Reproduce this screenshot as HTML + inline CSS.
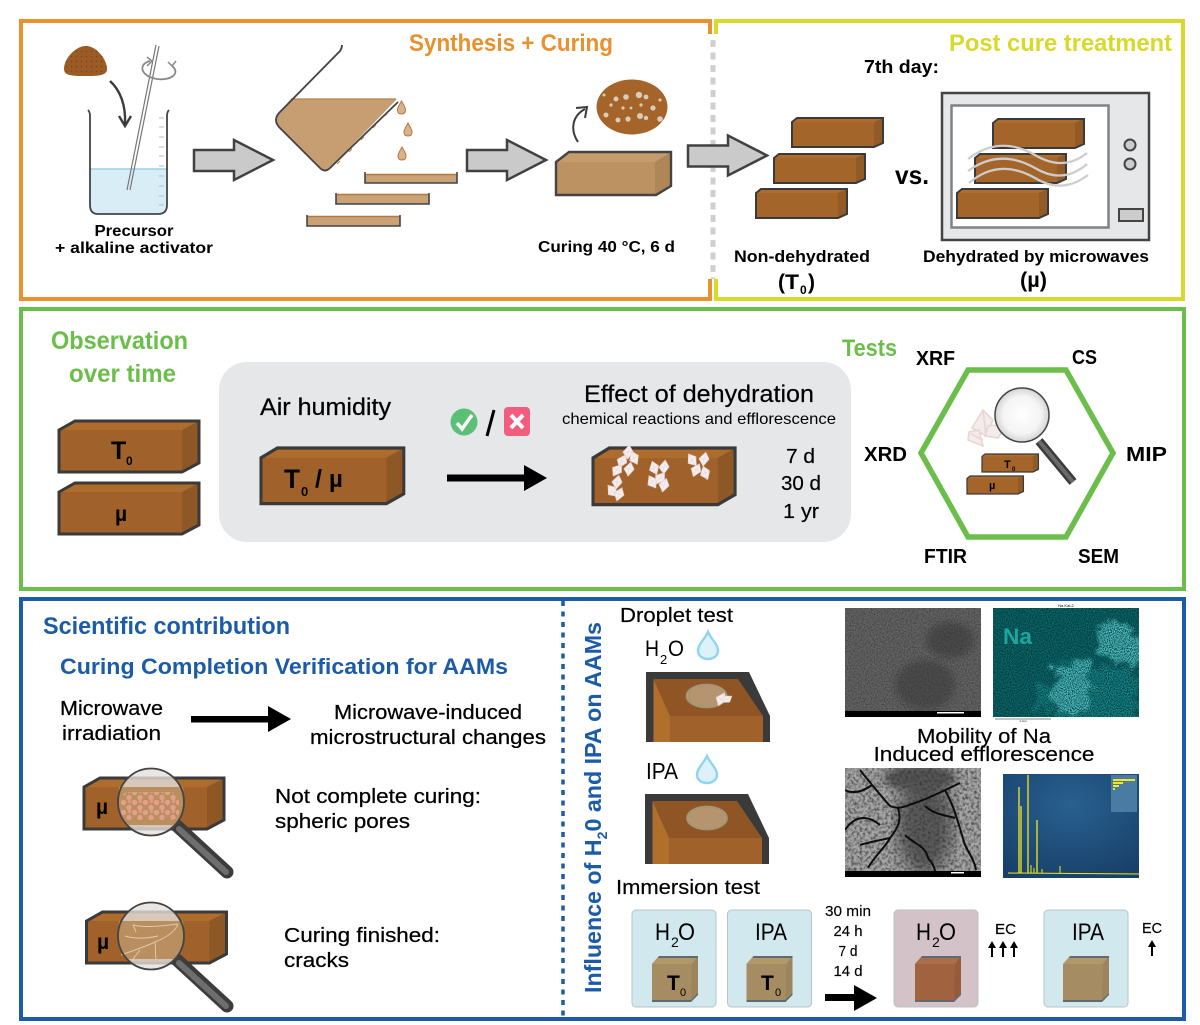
<!DOCTYPE html>
<html><head><meta charset="utf-8"><title>Diagram</title>
<style>
html,body{margin:0;padding:0;background:#fff}
svg{display:block}
text{font-family:"Liberation Sans",sans-serif;fill:#000}
.b{font-weight:bold}
.o{fill:#E8912D;font-weight:bold}
.y{fill:#D9D82B;font-weight:bold}
.g{fill:#6CBE4B;font-weight:bold}
.bl{fill:#1B5BA8;font-weight:bold}
</style></head><body>
<svg width="1200" height="1025" viewBox="0 0 1200 1025" xmlns="http://www.w3.org/2000/svg">
<defs>
<g id="flat"><path d="M0 4L5 0H91V25L82 29H0Z" fill="#A4652B"/><path d="M0 4L5 0H91L82 4Z" fill="#AE6C2D"/><path d="M82 4L91 0V25L82 29Z" fill="#915A27"/><path d="M0 4L5 0H91V25L82 29H0Z" fill="none" stroke="#3A3A3A" stroke-width="2"/></g>
<g id="big"><path d="M0 9L16 0H140V42L123 51H0Z" fill="#A0622A"/><path d="M0 9L16 0H140L123 9Z" fill="#AE6C2D"/><path d="M123 9L140 0V42L123 51Z" fill="#8E5826"/><path d="M0 9L16 0H140V42L123 51H0Z" fill="none" stroke="#3A3A3A" stroke-width="3"/></g>
<g id="cr"><path d="M0 -7L5 -1L1 7L-5 1Z" fill="#F7EFEF" stroke="#E3D3D3" stroke-width=".7"/><path d="M0 -7L0 7M-5 1L5 -1" stroke="#E3D3D3" stroke-width=".5"/></g>
<g id="drop"><path d="M0 -14C3 -7 10 -2 10 5C10 10 5 13 0 13C-5 13 -10 10 -10 5C-10 -2 -3 -7 0 -14Z" fill="#DDF1FA" stroke="#8FD5F0" stroke-width="2.4"/></g>
<g id="dr"><path d="M0 -7C2 -3 4 -1 4 2C4 5 2 6 0 6C-2 6 -4 5 -4 2C-4 -1 -2 -3 0 -7Z" fill="#D5B48D" stroke="#B9793B" stroke-width="1"/></g>
<path id="garrow" d="M0 10H40V0L79 20L40 40V31H0Z" fill="#CACACA" stroke="#414141" stroke-width="2.5"/>
<g id="cube"><path d="M0 8L7 0H46V38L39 46H0Z" fill="#A68C63"/><path d="M0 8L7 0H46L40 8Z" fill="#B09868"/><path d="M40 8L46 0V38L39 46Z" fill="#9C845D"/><path d="M0 44H39L46 37V39L39 46H0ZM7 0H46V2H6Z" fill="#5F6B70"/></g>
<g id="cube2"><path d="M0 8L7 0H46V38L39 46H0Z" fill="#A0623F"/><path d="M0 8L7 0H46L40 8Z" fill="#AB6E4C"/><path d="M40 8L46 0V38L39 46Z" fill="#955B3B"/><path d="M0 44H39L46 37V39L39 46H0ZM7 0H46V2H6Z" fill="#5F6B70"/></g>
<radialGradient id="lens"><stop offset="0" stop-color="#fff"/><stop offset=".7" stop-color="#f4f4f4"/><stop offset="1" stop-color="#d4d4d4"/></radialGradient>
<radialGradient id="spec" cx=".5" cy=".3" r=".8"><stop offset="0" stop-color="#29608F"/><stop offset="1" stop-color="#173F68"/></radialGradient>
<pattern id="pores" width="11" height="10" patternUnits="userSpaceOnUse"><circle cx="2.5" cy="2.5" r="2.7" fill="#E49F8A"/><circle cx="8" cy="7.5" r="2.7" fill="#E49F8A"/><circle cx="8.5" cy="1.5" r="1.8" fill="#DE9A84"/></pattern>
<pattern id="dots" width="5" height="5" patternUnits="userSpaceOnUse"><circle cx="1.5" cy="1.5" r=".7" fill="#7A451B"/></pattern>
<filter id="n1" x="0" y="0" width="100%" height="100%" color-interpolation-filters="sRGB"><feTurbulence type="fractalNoise" baseFrequency=".7" numOctaves="2" seed="3"/><feColorMatrix values="0 0 0 0 .2  0 0 0 0 .2  0 0 0 0 .2  0 0 0 1.6 -.55"/></filter>
<filter id="n2" x="0" y="0" width="100%" height="100%" color-interpolation-filters="sRGB"><feTurbulence type="fractalNoise" baseFrequency=".95" numOctaves="2" seed="8"/><feColorMatrix values="0 0 0 0 0  0 0 0 0 .18  0 0 0 0 .2  0 0 0 2.6 -.95"/></filter>
<filter id="n3" x="0" y="0" width="100%" height="100%" color-interpolation-filters="sRGB"><feTurbulence type="fractalNoise" baseFrequency=".35" numOctaves="3" seed="5"/><feColorMatrix values="0 0 0 0 .2  0 0 0 0 .2  0 0 0 0 .2  0 0 0 1.8 -.7"/></filter>
<filter id="bl4"><feGaussianBlur stdDeviation="4"/></filter>
<filter id="bl8"><feGaussianBlur stdDeviation="8"/></filter>
<filter id="pat" x="-20%" y="-20%" width="140%" height="140%" color-interpolation-filters="sRGB"><feTurbulence type="fractalNoise" baseFrequency=".07" numOctaves="3" seed="4" result="t"/><feDisplacementMap in="SourceGraphic" in2="t" scale="28" xChannelSelector="R" yChannelSelector="G"/><feGaussianBlur stdDeviation="1.2"/></filter>
<clipPath id="cS1"><rect x="845" y="608" width="136" height="109"/></clipPath>
<clipPath id="cNa"><rect x="993" y="608" width="146" height="109"/></clipPath>
<clipPath id="cS2"><rect x="845" y="768" width="136" height="109"/></clipPath>
</defs>
<rect width="1200" height="1025" fill="#fff"/>

<!-- Frames -->
<path d="M710 34V21H21V299H710V279" fill="none" stroke="#E8912D" stroke-width="4"/>
<path d="M716 34V21H1183V299H716V279" fill="none" stroke="#D9D82B" stroke-width="4"/>
<path d="M713 40V279" stroke="#CFCFCF" stroke-width="5" stroke-dasharray="7 5.5" fill="none"/>
<rect x="21" y="309" width="1163" height="280" fill="none" stroke="#6CBE4B" stroke-width="4"/>
<rect x="21" y="599" width="1163" height="420" fill="none" stroke="#1B5BA8" stroke-width="4"/>
<path d="M563 601V1017" stroke="#1B5BA8" stroke-width="3.5" stroke-dasharray="5 5.5" fill="none"/>

<!-- Top-left -->
<text x="409" y="51" class="o" font-size="24" textLength="204" lengthAdjust="spacingAndGlyphs">Synthesis + Curing</text>
<path d="M64 69C64 58 76 46 86 46C97 46 107 60 107 69C107 76 97 76 86 76C73 76 64 76 64 69Z" fill="#9A5B24"/>
<path d="M64 69C64 58 76 46 86 46C97 46 107 60 107 69C107 76 97 76 86 76C73 76 64 76 64 69Z" fill="url(#dots)"/>
<path d="M110 81C120 90 126 105 125 124" fill="none" stroke="#3b3b3b" stroke-width="2.4"/>
<path d="M119 116L125 126L131 116" fill="none" stroke="#3b3b3b" stroke-width="2.4"/>
<path d="M90 169H167V205Q167 214 158 214H98Q90 214 90 205Z" fill="#D9EDF7"/>
<path d="M90 169H167" stroke="#9CD0E8" stroke-width="1.5"/>
<path d="M88 110Q90 112 90 116V205Q90 214 98 214H158Q167 214 167 205V116Q167 112 169 110" fill="none" stroke="#444" stroke-width="1.8"/>
<path d="M159 118h5M159 127h5M159 137h5M159 147h5M159 156h5M159 166h5M159 176h5M159 186h5M159 196h5M159 205h5" stroke="#bbb" stroke-width="1"/>
<path d="M156 45L127 190M159 46L130 190" stroke="#777" stroke-width="1.2"/>
<path d="M150 61C138 64 140 76 157 79C171 81 181 73 172 66" fill="none" stroke="#888" stroke-width="1.8"/>
<path d="M147 57L152 61L147 66M168 62L172 66L176 61" fill="none" stroke="#888" stroke-width="1.5"/>
<text x="134" y="236" text-anchor="middle" class="b" font-size="15.5" textLength="79" lengthAdjust="spacingAndGlyphs">Precursor</text>
<text x="55" y="253" class="b" font-size="15.5" textLength="158" lengthAdjust="spacingAndGlyphs">+ alkaline activator</text>
<use href="#garrow" transform="translate(194,140)"/>

<path d="M291 99H397L330 168Q325 173 320 168L279 127Q273 120 279 113Z" fill="#C69E72"/>
<path d="M291 99H396" stroke="#B5834C" stroke-width="1.2"/>
<path d="M342 45Q342 48 340 51L279 113Q273 120 279 127L320 168Q325 173 330 168L398 102" fill="none" stroke="#444" stroke-width="1.8"/>
<path d="M388 113l-3 3M376 125l-3 3M364 137l-3 3M352 149l-3 3M340 161l-3 3" stroke="#A98A66" stroke-width="1"/>
<use href="#dr" transform="translate(401.5,108)"/><use href="#dr" transform="translate(408,130)"/><use href="#dr" transform="translate(402,154)"/>
<g fill="#C9A377"><rect x="365" y="174" width="92" height="9"/><rect x="336" y="194" width="93" height="10"/><rect x="307" y="216" width="93" height="10"/></g>
<path d="M366 174.500H456M337 194.500H428M308 216.500H399" stroke="#B5763A" stroke-width="1.500"/>
<g fill="none" stroke="#444" stroke-width="1.600">
<path d="M365 172V183H457V172"/><path d="M336 193V204H429V193"/><path d="M307 215V226H400V215"/>
</g>
<use href="#garrow" transform="translate(467,140)"/>
<path d="M556 162L569 152H671V186L656 195H556Z" fill="#BC9263"/>
<path d="M556 162L569 152H671L655 162Z" fill="#C69C6D"/>
<path d="M655 162L671 152V186L655 195Z" fill="#AF8658"/>
<path d="M556 162L569 152H671V186L656 195H556Z" fill="none" stroke="#444" stroke-width="2.4"/>
<path d="M578 142C570 130 572 116 585 109" fill="none" stroke="#3b3b3b" stroke-width="2"/>
<path d="M576 108L587 107L585 118" fill="none" stroke="#3b3b3b" stroke-width="2"/>
<ellipse cx="632" cy="107" rx="35.5" ry="27.5" fill="#A5642A"/>
<g fill="#D9CDB8"><circle cx="604" cy="95" r="1.5"/><circle cx="616" cy="99" r="2.5"/><circle cx="626" cy="97" r="2.8"/><circle cx="639" cy="95" r="3.2"/><circle cx="646" cy="97" r="2.4"/><circle cx="660" cy="100" r="1.6"/><circle cx="611" cy="105" r="1.6"/><circle cx="623" cy="108" r="1.6"/><circle cx="631" cy="108" r="1.4"/><circle cx="641" cy="105" r="1.6"/><circle cx="653" cy="108" r="2.6"/><circle cx="606" cy="115" r="2.5"/><circle cx="618" cy="120" r="2.5"/><circle cx="628" cy="119" r="2.6"/><circle cx="640" cy="116" r="3"/><circle cx="646" cy="118" r="2.2"/><circle cx="660" cy="119" r="2.8"/></g>
<text x="538" y="252" class="b" font-size="16" textLength="137" lengthAdjust="spacingAndGlyphs">Curing 40 °C, 6 d</text>

<!-- Top-right -->
<use href="#garrow" transform="translate(688,135.5)"/>
<text x="949" y="51" class="y" font-size="24" textLength="223" lengthAdjust="spacingAndGlyphs">Post cure treatment</text>
<text x="864" y="73" class="b" font-size="18" textLength="75" lengthAdjust="spacingAndGlyphs">7th day:</text>
<use href="#flat" transform="translate(792,118)"/><use href="#flat" transform="translate(774,154)"/><use href="#flat" transform="translate(756,189)"/>
<text x="895" y="184" class="b" font-size="26" textLength="34" lengthAdjust="spacingAndGlyphs">vs.</text>
<rect x="942" y="93" width="207" height="147" fill="#E6E7E8" stroke="#444" stroke-width="2.5"/>
<rect x="951.500" y="105.500" width="157" height="122" fill="#fff" stroke="#808285" stroke-width="2.5"/>
<circle cx="1130" cy="145" r="5.5" fill="#ccc" stroke="#444" stroke-width="2"/>
<circle cx="1130" cy="164" r="5.500" fill="#ccc" stroke="#444" stroke-width="2"/>
<rect x="1119" y="209" width="24" height="12" fill="#ccc" stroke="#444" stroke-width="2"/>
<use href="#flat" transform="translate(993,119)"/><use href="#flat" transform="translate(975,154)"/><use href="#flat" transform="translate(957,189)"/>
<g fill="none" stroke="#CDCDCD" stroke-width="2.3">
<path d="M968 159C990 142 1012 142 1035 155C1055 167 1072 165 1087 153"/>
<path d="M968 171C990 155 1012 155 1035 168C1055 180 1072 177 1087 164"/>
<path d="M969 183C990 165 1012 165 1035 178C1055 190 1072 187 1088 175"/>
</g>
<text x="734" y="262" class="b" font-size="17" textLength="136" lengthAdjust="spacingAndGlyphs">Non-dehydrated</text>
<text x="923" y="262" class="b" font-size="17" textLength="226" lengthAdjust="spacingAndGlyphs">Dehydrated by microwaves</text>
<text x="778" y="289" class="b" font-size="21">(</text>
<text x="785" y="289" class="b" font-size="21" textLength="14" lengthAdjust="spacingAndGlyphs">T</text>
<text x="800" y="294" class="b" font-size="12">0</text>
<text x="808" y="289" class="b" font-size="21">)</text>
<text x="1020" y="287" class="b" font-size="21" textLength="27" lengthAdjust="spacingAndGlyphs">(µ)</text>

<!-- Middle -->
<text x="51" y="349" class="g" font-size="25" textLength="137" lengthAdjust="spacingAndGlyphs">Observation</text>
<text x="69" y="382" class="g" font-size="25" textLength="107" lengthAdjust="spacingAndGlyphs">over time</text>
<use href="#big" transform="translate(59,421)"/><use href="#big" transform="translate(59,483)"/>
<text x="111" y="459" class="b" font-size="25">T</text><text x="126" y="465" class="b" font-size="12">0</text>
<text x="115" y="521" class="b" font-size="21">µ</text>
<rect x="219" y="362" width="632" height="180" rx="28" fill="#E6E7E9"/>
<text x="260" y="415" font-size="24" textLength="131" lengthAdjust="spacingAndGlyphs" stroke="#000" stroke-width=".25">Air humidity</text>
<circle cx="464" cy="422" r="13.500" fill="#5BBF76"/>
<path d="M457 423L462 429L472 415" fill="none" stroke="#fff" stroke-width="3.5"/>
<path d="M494 410L487 436" stroke="#000" stroke-width="3"/>
<rect x="504" y="407" width="26" height="29" rx="4" fill="#F25C7E"/>
<path d="M511 415L523 428M523 415L511 428" stroke="#fff" stroke-width="4"/>
<text x="584" y="402" font-size="24" textLength="230" lengthAdjust="spacingAndGlyphs" stroke="#000" stroke-width=".2">Effect of dehydration</text>
<text x="562" y="424" font-size="16" textLength="274" lengthAdjust="spacingAndGlyphs">chemical reactions and efflorescence</text>
<use href="#big" transform="translate(261,448) scale(1.02,1.09)"/>
<text x="284" y="488" class="b" font-size="27" textLength="16" lengthAdjust="spacingAndGlyphs">T</text><text x="301" y="496" class="b" font-size="13">0</text>
<text x="315" y="487" class="b" font-size="25">/</text><text x="329" y="487" class="b" font-size="24">µ</text>
<path d="M447 474.500H524V465L547 478L524 491V481.500H447Z" fill="#000"/>
<use href="#big" transform="translate(593,448) scale(1.015,1.11)"/>
<g>
<use href="#cr" transform="translate(628,452) rotate(10)"/><use href="#cr" transform="translate(622,461) rotate(30)"/><use href="#cr" transform="translate(634,458) rotate(-20)"/><use href="#cr" transform="translate(629,469) rotate(15)"/><use href="#cr" transform="translate(617,470) rotate(40)"/>
<use href="#cr" transform="translate(654,468) rotate(-15)"/><use href="#cr" transform="translate(664,467) rotate(10)"/><use href="#cr" transform="translate(660,478) rotate(40)"/><use href="#cr" transform="translate(652,482) rotate(-25)"/><use href="#cr" transform="translate(664,485) rotate(20)"/>
<use href="#cr" transform="translate(692,460) rotate(-30)"/><use href="#cr" transform="translate(704,459) rotate(15)"/><use href="#cr" transform="translate(696,470) rotate(30)"/><use href="#cr" transform="translate(705,473) rotate(-15)"/>
<use href="#cr" transform="translate(617,482) rotate(15)"/><use href="#cr" transform="translate(612,491) rotate(-35)"/><use href="#cr" transform="translate(619,494) rotate(25)"/>
</g>
<text x="786" y="463" font-size="20" textLength="29" lengthAdjust="spacingAndGlyphs" stroke="#000" stroke-width=".2">7 d</text>
<text x="781" y="490" font-size="20" textLength="40" lengthAdjust="spacingAndGlyphs" stroke="#000" stroke-width=".2">30 d</text>
<text x="783" y="518" font-size="20" textLength="36" lengthAdjust="spacingAndGlyphs" stroke="#000" stroke-width=".2">1 yr</text>

<text x="842" y="356" class="g" font-size="24" textLength="55" lengthAdjust="spacingAndGlyphs">Tests</text>
<polygon points="968,370 1066,370 1113,453 1066,537 968,537 921,453" fill="none" stroke="#6CBE4B" stroke-width="5.500"/>
<g class="b" font-size="20" font-weight="bold">
<text x="916" y="365" textLength="39" lengthAdjust="spacingAndGlyphs">XRF</text>
<text x="1072" y="364" textLength="25" lengthAdjust="spacingAndGlyphs">CS</text>
<text x="864" y="461" textLength="43" lengthAdjust="spacingAndGlyphs">XRD</text>
<text x="1126" y="461" textLength="41" lengthAdjust="spacingAndGlyphs">MIP</text>
<text x="924" y="563" textLength="43" lengthAdjust="spacingAndGlyphs">FTIR</text>
<text x="1078" y="563" textLength="41" lengthAdjust="spacingAndGlyphs">SEM</text>
</g>
<g fill="#F4EBEB" stroke="#E8D6D6" stroke-width="1.6">
<path d="M983 410L993 420L986 436L972 428Z"/><path d="M969 432L979 430L983 446L968 440Z"/><path d="M988 426L1008 424L998 438L985 436Z"/>
<path d="M983 410L986 436M971 434L983 440" fill="none"/>
</g>
<use href="#flat" transform="translate(982,454) scale(.62)"/>
<use href="#flat" transform="translate(967,476) scale(.62)"/>
<text x="1004" y="468" class="b" font-size="11" fill="#222">T</text><text x="1012" y="471" class="b" font-size="6">0</text>
<text x="989" y="489" class="b" font-size="11">µ</text>
<path d="M1039 441L1073 482" stroke="#3C3C3C" stroke-width="9"/>
<path d="M1039 441L1073 482" stroke="#6A6A6A" stroke-width="4"/>
<circle cx="1022" cy="415" r="27" fill="url(#lens)" stroke="#444" stroke-width="1.5"/>

<!-- Bottom left -->
<text x="43" y="634" class="bl" font-size="24" textLength="247" lengthAdjust="spacingAndGlyphs">Scientific contribution</text>
<text x="60" y="674" class="bl" font-size="22" textLength="448" lengthAdjust="spacingAndGlyphs">Curing Completion Verification for AAMs</text>
<g font-size="20" stroke="#000" stroke-width=".25">
<text x="60" y="715" textLength="103" lengthAdjust="spacingAndGlyphs">Microwave</text>
<text x="62" y="740" textLength="99" lengthAdjust="spacingAndGlyphs">irradiation</text>
<text x="334" y="719" textLength="188" lengthAdjust="spacingAndGlyphs">Microwave-induced</text>
<text x="310" y="744" textLength="236" lengthAdjust="spacingAndGlyphs">microstructural changes</text>
<text x="275" y="803" textLength="206" lengthAdjust="spacingAndGlyphs">Not complete curing:</text>
<text x="275" y="828" textLength="135" lengthAdjust="spacingAndGlyphs">spheric pores</text>
<text x="284" y="942" textLength="156" lengthAdjust="spacingAndGlyphs">Curing finished:</text>
<text x="284" y="967" textLength="65" lengthAdjust="spacingAndGlyphs">cracks</text>
</g>
<path d="M191 716H268V706L291 719L268 732V722.500H191Z" fill="#000"/>
<use href="#big" transform="translate(84,778)"/>
<text x="96" y="814" class="b" font-size="21">µ</text>
<path d="M177 826L227 872" stroke="#3C3C3C" stroke-width="13" stroke-linecap="round"/>
<path d="M179 829L226 872" stroke="#6E6E6E" stroke-width="6" stroke-linecap="round"/>
<ellipse cx="151" cy="802" rx="33" ry="33.500" fill="#E3E0DC" fill-opacity=".8"/>
<path d="M119 787H183Q185 802 183 812Q181 820 176 825H126Q121 820 119 812Q117 802 119 787Z" fill="#B98F60"/>
<rect x="121" y="792" width="58" height="28" rx="8" fill="url(#pores)"/>
<ellipse cx="151" cy="802" rx="33" ry="33.500" fill="none" stroke="#444" stroke-width="1.800"/>

<use href="#big" transform="translate(86.500,912)"/>
<text x="97" y="949" class="b" font-size="21">µ</text>
<path d="M177 960L227 1006" stroke="#3C3C3C" stroke-width="13" stroke-linecap="round"/>
<path d="M179 963L226 1006" stroke="#6E6E6E" stroke-width="6" stroke-linecap="round"/>
<ellipse cx="151" cy="936" rx="33" ry="33.500" fill="#E3E0DC" fill-opacity=".8"/>
<path d="M119 921H183Q185 936 183 946Q181 954 176 959H126Q121 954 119 946Q117 936 119 921Z" fill="#B98F60"/>
<g fill="none" stroke="#E4C6A9" stroke-width="1">
<path d="M133 925C145 928 162 926 178 924"/><path d="M178 924C175 932 165 938 155 942C147 946 135 950 121 955"/>
<path d="M125 936C135 939 145 939 158 936"/><path d="M155 942C156 948 155 955 156 959"/><path d="M133 925L136 932M140 950L130 963"/>
</g>
<ellipse cx="151" cy="936" rx="33" ry="33.500" fill="none" stroke="#444" stroke-width="1.800"/>

<!-- Vertical title -->
<text transform="translate(601,993) rotate(-90)" font-size="23" class="bl" textLength="371" lengthAdjust="spacingAndGlyphs">Influence of H<tspan dy="6" font-size="14">2</tspan><tspan dy="-6">0 and IPA on AAMs</tspan></text>

<!-- Droplets -->
<g font-size="20">
<text x="620" y="622" textLength="113" lengthAdjust="spacingAndGlyphs" stroke="#000" stroke-width=".2">Droplet test</text>
<text x="645" y="656" font-size="22" textLength="14" lengthAdjust="spacingAndGlyphs">H</text><text x="660" y="664" font-size="13">2</text><text x="668" y="656" font-size="22" textLength="16" lengthAdjust="spacingAndGlyphs">O</text>
<text x="646" y="779" font-size="23" textLength="32" lengthAdjust="spacingAndGlyphs">IPA</text>
<text x="616" y="894" textLength="144" lengthAdjust="spacingAndGlyphs" stroke="#000" stroke-width=".2">Immersion test</text>
</g>
<use href="#drop" transform="translate(708,646)"/>
<use href="#drop" transform="translate(707,770)"/>

<path d="M646 672H749L770 716V742H646Z" fill="#3A3A3A"/>
<path d="M653.500 679H738L763 716H670Z" fill="#8F5524"/>
<path d="M653.500 679L670 716V742H653.500Z" fill="#B0702B"/>
<path d="M670 716H763V742H670Z" fill="#A0622A"/>
<ellipse cx="706.500" cy="696" rx="20" ry="11.500" fill="#B59470" stroke="#A39678" stroke-width="1.800"/>
<use href="#cr" transform="translate(721,699) rotate(30)"/><use href="#cr" transform="translate(727,699) rotate(60) scale(.8)"/>
<path d="M645 794H748L769 838V864H645Z" fill="#3A3A3A"/>
<path d="M652.500 801H737L762 838H669Z" fill="#8F5524"/>
<path d="M652.500 801L669 838V864H652.500Z" fill="#B0702B"/>
<path d="M669 838H762V864H669Z" fill="#A0622A"/>
<ellipse cx="707" cy="818" rx="20" ry="11.500" fill="#B59470" stroke="#A39678" stroke-width="1.800"/>

<!-- Micrographs -->
<g clip-path="url(#cS1)">
<rect x="845" y="608" width="136" height="109" fill="#666"/>
<ellipse cx="950" cy="640" rx="24" ry="18" fill="#4B4B4B" filter="url(#bl4)"/>
<ellipse cx="925" cy="685" rx="30" ry="25" fill="#4E4E4E" filter="url(#bl4)"/>
<rect x="845" y="608" width="136" height="109" filter="url(#n1)"/>
<rect x="845" y="711" width="136" height="6" fill="#000"/>
<rect x="937" y="712" width="27" height="1.500" fill="#fff"/>
</g>
<g clip-path="url(#cNa)">
<rect x="993" y="608" width="146" height="109" fill="#0C6A6B"/>
<g filter="url(#pat)">
<path d="M1060 660L1139 672V725H1050Z" fill="#168A8B"/>
<path d="M1095 630L1125 622L1145 640V668L1115 664L1098 650Z" fill="#4FC6C6"/>
<path d="M1052 672L1080 662L1095 680L1092 700L1072 720L1052 705Z" fill="#4FC6C6"/>
<path d="M1030 690L1046 680L1050 700L1040 716Z" fill="#168A8B"/>
</g>
<rect x="993" y="608" width="146" height="109" filter="url(#n2)"/>
</g>
<text x="1003" y="644" class="b" font-size="22" fill="#19A79F" style="fill:#19A79F" textLength="29" lengthAdjust="spacingAndGlyphs">Na</text>
<path d="M995 719H1051" stroke="#888" stroke-width="1"/>
<text x="1066" y="607" text-anchor="middle" font-size="4">Na KaL2</text>
<text x="1023" y="722" text-anchor="middle" font-size="3">1 mm</text>
<text x="984" y="743" text-anchor="middle" font-size="20" textLength="134" lengthAdjust="spacingAndGlyphs" stroke="#000" stroke-width=".2">Mobility of Na</text>
<text x="984" y="761" text-anchor="middle" font-size="20" textLength="221" lengthAdjust="spacingAndGlyphs" stroke="#000" stroke-width=".2">Induced efflorescence</text>
<g clip-path="url(#cS2)">
<rect x="845" y="768" width="136" height="109" fill="#A6A6A6"/>
<ellipse cx="925" cy="825" rx="28" ry="50" fill="#5A5A5A" filter="url(#bl8)"/>
<ellipse cx="920" cy="778" rx="36" ry="14" fill="#555" filter="url(#bl4)"/>
<rect x="845" y="768" width="136" height="109" filter="url(#n3)"/>
<g fill="none" stroke="#0d0d0d" stroke-width="2">
<path d="M860 770C872 785 880 795 890 806C900 810 905 806 915 803C930 798 945 790 960 783"/>
<path d="M845 790C855 795 865 790 872 785"/>
<path d="M898 808C902 820 898 828 890 838C885 848 875 855 868 868"/>
<path d="M890 838C880 840 870 842 860 845"/>
<path d="M945 790C956 810 960 830 965 845C970 855 975 862 976 870"/>
<path d="M845 830C855 815 868 815 880 825"/>
<path d="M905 835C915 845 925 845 928 858C932 862 935 868 935 872"/>
<path d="M925 806C935 815 945 815 955 818"/>
</g>
<rect x="845" y="871" width="136" height="6" fill="#000"/>
<rect x="951" y="872" width="13" height="1.500" fill="#fff"/>
</g>
<rect x="1003" y="774" width="136" height="104" fill="url(#spec)"/>
<g stroke="#F5E61E" fill="none">
<path d="M1019 787V873M1021 806V873M1028 775V873M1037 820V873" stroke-width="1.300"/>
<path d="M1008 873L1139 874" stroke-width="1"/>
<path d="M1031 865V873M1034 868V873M1042 869V873M1060 866V873" stroke-width="1"/>
</g>
<rect x="1111" y="775" width="26" height="37" fill="#4A7BA3"/>
<g fill="#F5E61E"><rect x="1113" y="779" width="22" height="2"/><rect x="1113" y="782" width="10" height="2"/><rect x="1113" y="785" width="6" height="2"/><rect x="1113" y="788" width="2" height="2"/></g>

<!-- Immersion -->
<g stroke="#B9C3C6" stroke-width="1">
<rect x="632" y="910" width="84" height="97" rx="4" fill="#D0E8EE"/>
<rect x="727.500" y="910" width="84" height="97" rx="4" fill="#D0E8EE"/>
<rect x="894" y="910" width="84" height="97" rx="4" fill="#D3C2C8"/>
<rect x="1044" y="910" width="84" height="97" rx="4" fill="#D0E8EE"/>
</g>
<g font-size="24">
<text x="655" y="940" textLength="15" lengthAdjust="spacingAndGlyphs">H</text><text x="671" y="947" font-size="14">2</text><text x="678" y="940" textLength="17" lengthAdjust="spacingAndGlyphs">O</text>
<text x="755" y="940" textLength="32" lengthAdjust="spacingAndGlyphs">IPA</text>
<text x="916" y="940" textLength="15" lengthAdjust="spacingAndGlyphs">H</text><text x="932" y="947" font-size="14">2</text><text x="939" y="940" textLength="17" lengthAdjust="spacingAndGlyphs">O</text>
<text x="1072" y="940" textLength="32" lengthAdjust="spacingAndGlyphs">IPA</text>
</g>
<use href="#cube" transform="translate(652,956)"/><use href="#cube" transform="translate(746.500,956)"/>
<use href="#cube2" transform="translate(915,956)"/><use href="#cube" transform="translate(1063,956)"/>
<text x="667" y="990" class="b" font-size="21">T</text><text x="680" y="996" font-size="11">0</text>
<text x="761" y="990" class="b" font-size="21">T</text><text x="775" y="996" font-size="11">0</text>
<g font-size="15" text-anchor="middle" stroke="#000" stroke-width=".15">
<text x="848" y="916" textLength="46" lengthAdjust="spacingAndGlyphs">30 min</text>
<text x="848" y="936" textLength="29" lengthAdjust="spacingAndGlyphs">24 h</text>
<text x="848" y="956" textLength="19" lengthAdjust="spacingAndGlyphs">7 d</text>
<text x="848" y="976" textLength="29" lengthAdjust="spacingAndGlyphs">14 d</text>
</g>
<path d="M825 994H854V985L877 998L854 1011V1001H825Z" fill="#000"/>
<text x="995" y="934" font-size="15" textLength="21" lengthAdjust="spacingAndGlyphs" stroke="#000" stroke-width=".2">EC</text>
<text x="1142" y="933" font-size="15" textLength="20" lengthAdjust="spacingAndGlyphs" stroke="#000" stroke-width=".2">EC</text>
<g stroke="#000" stroke-width="2" fill="#000">
<path d="M992 957V946M1003 957V946M1014 957V946M1152 956V945"/>
</g>
<g fill="#000">
<path d="M988 948L992 941L996 948Z"/><path d="M999 948L1003 941L1007 948Z"/><path d="M1010 948L1014 941L1018 948Z"/><path d="M1148 947L1152 940L1156 947Z"/>
</g>
</svg>
</body></html>
